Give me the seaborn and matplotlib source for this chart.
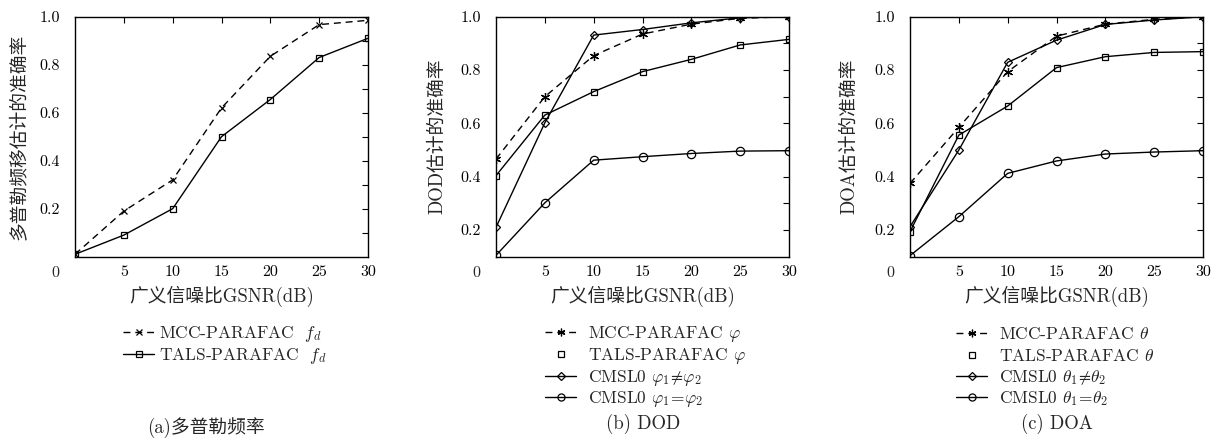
import numpy as np
import pandas as pd
import matplotlib
matplotlib.use("Agg")
import matplotlib.pyplot as plt
from matplotlib.lines import Line2D
import seaborn as sns

# ---------------- data ----------------
gsnr = [0, 5, 10, 15, 20, 25, 30]

# (a) Doppler frequency
a_mcc = [0.01, 0.19, 0.32, 0.62, 0.835, 0.967, 0.985]
a_tals = [0.01, 0.09, 0.20, 0.50, 0.655, 0.83, 0.91]

# (b) DOD
b_mcc = [0.466, 0.70, 0.854, 0.935, 0.972, 0.994, 1.0]
b_tals = [0.404, 0.631, 0.719, 0.794, 0.84, 0.894, 0.915]
b_cmsl_neq = [0.21, 0.602, 0.931, 0.952, 0.977, 0.996, 1.0]
b_cmsl_eq = [0.105, 0.302, 0.462, 0.475, 0.487, 0.496, 0.4975]

# (c) DOA
c_mcc = [0.375, 0.585, 0.794, 0.927, 0.972, 0.99, 1.0]
c_tals = [0.194, 0.556, 0.665, 0.809, 0.85, 0.866, 0.869]
c_cmsl_neq = [0.2125, 0.50, 0.829, 0.912, 0.971, 0.9875, 1.0]
c_cmsl_eq = [0.104, 0.25, 0.4125, 0.459, 0.485, 0.4925, 0.4975]

xticks = [5, 10, 15, 20, 25, 30]
a_yticks = [0.2, 0.4, 0.6, 0.8, 1.0]
bc_yticks = [0.2, 0.4, 0.6, 0.8, 1.0]

ylabels = ["多普勒频移估计的准确率", "DOD估计的准确率", "DOA估计的准确率"]
xlabel = "广义信噪比GSNR(dB)"
captions = ["(a)多普勒频率", "(b) DOD", "(c) DOA"]

a_labels = [r"MCC-PARAFAC  $f_d$", r"TALS-PARAFAC  $f_d$"]
b_labels = [r"MCC-PARAFAC $\varphi$", r"TALS-PARAFAC $\varphi$",
            r"CMSL0 $\varphi_1\!\neq\!\varphi_2$", r"CMSL0 $\varphi_1\!=\!\varphi_2$"]
c_labels = [r"MCC-PARAFAC $\theta$", r"TALS-PARAFAC $\theta$",
            r"CMSL0 $\theta_1\!\neq\!\theta_2$", r"CMSL0 $\theta_1\!=\!\theta_2$"]

# ---------------- style ----------------
sns.set_theme(style="white")
plt.rcParams["font.family"] = ["cmr10", "Noto Sans CJK SC", "DejaVu Serif"]
plt.rcParams["mathtext.fontset"] = "cm"
plt.rcParams["axes.unicode_minus"] = False
plt.rcParams["axes.formatter.use_mathtext"] = True

FS_TICK = 11.5
FS_LAB = 13.5
FS_LEG = 12.5
FS_CAP = 13.5
W, H = 1217, 441
fig = plt.figure(figsize=(W / 100, H / 100), dpi=100)

def axes_px(left, right, top, bottom):
    return fig.add_axes([left / W, 1 - bottom / H, (right - left) / W, (bottom - top) / H])

axA = axes_px(75, 368, 16.7, 256.7)
axB = axes_px(496, 789, 16.7, 256.7)
axC = axes_px(910, 1203, 16.7, 256.7)

DASH = (0, (5, 3.5))
LW = 1.0

def line(ax, y, marker, ls="-", ms=6):
    sns.lineplot(x=gsnr, y=y, ax=ax, color="black", linewidth=LW, linestyle=ls,
                 marker=marker, markersize=ms, markerfacecolor="none",
                 markeredgecolor="black", markeredgewidth=0.9, legend=False)

ASTER = (6, 2, 0)
MS = {"x": 5, "s": 5, "D": 4.5, "o": 6, ASTER: 6.5}

line(axA, a_mcc, "x", DASH, MS["x"])
line(axA, a_tals, "s", "-", MS["s"])

for ax, ys in ((axB, (b_mcc, b_tals, b_cmsl_neq, b_cmsl_eq)),
               (axC, (c_mcc, c_tals, c_cmsl_neq, c_cmsl_eq))):
    line(ax, ys[0], ASTER, DASH, MS[ASTER])
    line(ax, ys[1], "s", "-", MS["s"])
    line(ax, ys[2], "D", "-", MS["D"])
    line(ax, ys[3], "o", "-", MS["o"])

def style_axes(ax, ylim, yticks, minor, ylab, labx):
    ax.set_xlim(0, 30)
    ax.set_ylim(*ylim)
    ax.set_xticks(xticks)
    ax.set_xticklabels([str(t) for t in xticks])
    ax.set_yticks(yticks)
    ax.set_yticklabels([f"{t:.1f}" for t in yticks])
    ax.set_yticks(minor, minor=True)
    ax.tick_params(axis="both", which="both", direction="in", top=True, right=True,
                   colors="black", labelsize=FS_TICK, width=0.8)
    ax.tick_params(axis="both", which="major", length=4)
    ax.tick_params(axis="y", which="minor", length=4)
    ax.tick_params(axis="x", which="major", pad=6)
    ax.tick_params(axis="y", which="major", pad=11)
    for s in ax.spines.values():
        s.set_color("black")
        s.set_linewidth(1.0)
    ax.set_xlabel(xlabel, fontsize=FS_LAB)
    ax.xaxis.set_label_coords(0.5, -0.12)
    ax.set_ylabel(ylab, fontsize=FS_LAB)
    ax.yaxis.set_label_coords(labx, 0.5)
    ax.text(-20 / 293, -0.068, "0", transform=ax.transAxes, ha="center", va="center",
            fontsize=FS_TICK)

style_axes(axA, (0, 1.0), a_yticks, [0.1, 0.3, 0.5, 0.7, 0.9], ylabels[0], -0.16)
style_axes(axB, (0.1, 1.0), bc_yticks, [0.3, 0.5, 0.7, 0.9], ylabels[1], -0.17)
style_axes(axC, (0.1, 1.0), bc_yticks, [0.3, 0.5, 0.7, 0.9], ylabels[2], -0.175)

def h(marker, ls="-", ms=6, nolines=False):
    return Line2D([], [], color="black", linewidth=0 if nolines else LW, linestyle=ls,
                  marker=marker, markersize=ms, markerfacecolor="none",
                  markeredgecolor="black", markeredgewidth=0.9)

ROWS = [334, 356, 378, 399]

def add_legend(handles, labels, xpx, textpad):
    # one legend box per row so that the row pitch is uniform
    for i, (hd, lb) in enumerate(zip(handles, labels)):
        fig.legend([hd], [lb], loc="center left",
                   bbox_to_anchor=(xpx / W, 1 - ROWS[i] / H),
                   frameon=False, fontsize=FS_LEG, handlelength=1.8,
                   handletextpad=textpad, borderpad=0, borderaxespad=0,
                   markerscale=0.85)

add_legend([h("x", DASH, MS["x"]), h("s", "-", MS["s"])], a_labels, 123, 0.3)
bc_handles = lambda: [h(ASTER, DASH, MS[ASTER]), h("s", "-", MS["s"], nolines=True),
                      h("D", "-", MS["D"]), h("o", "-", MS["o"])]
add_legend(bc_handles(), b_labels, 545, 0.65)
add_legend(bc_handles(), c_labels, 956, 0.65)

fig.text(206 / W, 1 - 428 / H, captions[0], ha="center", va="center", fontsize=FS_CAP)
fig.text(643 / W, 1 - 424 / H, captions[1], ha="center", va="center", fontsize=FS_CAP)
fig.text(1057 / W, 1 - 424 / H, captions[2], ha="center", va="center", fontsize=FS_CAP)

fig.savefig("out.png", dpi=100, facecolor="white")
